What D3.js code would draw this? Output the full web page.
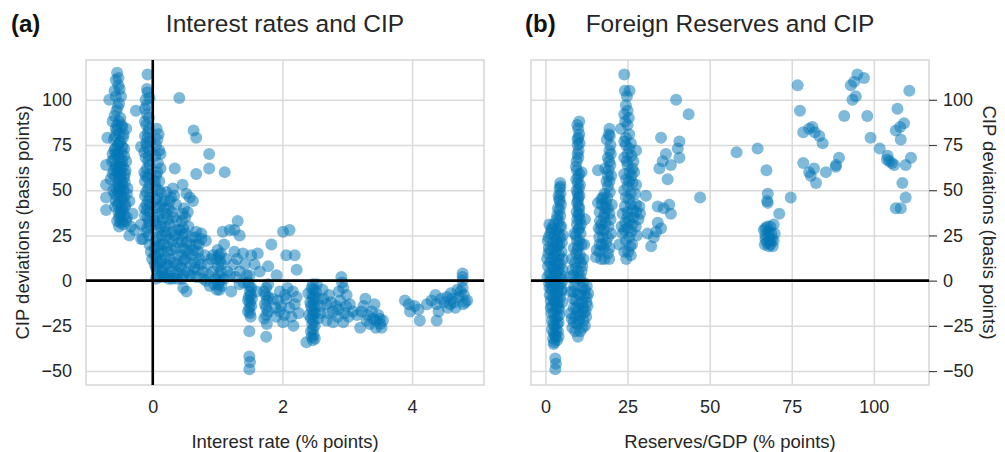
<!DOCTYPE html>
<html>
<head>
<meta charset="utf-8">
<script src="https://cdn.jsdelivr.net/npm/d3@7"></script>
<style>
  body { margin: 0; background: #fff; }
  svg { font-family: "Liberation Sans", Arial, Helvetica, sans-serif; }
  .grid line { stroke: #dadada; stroke-width: 1.5; }
  .grid .domain { display: none; }
  .tick text { fill: #262626; font-size: 18px; }
</style>
</head>
<body>
<svg id="chart" width="1005" height="452"></svg>
<script>
// panel (a): [interest rate (% points), CIP deviation (bp)]
const rateCip = [
  [-0.55,115],[-0.57,111],[-0.53,108],[-0.51,106],[-0.59,105],[-0.49,102],[-0.67,100],[-0.54,96],
  [-0.26,94],[-0.59,91],[-0.52,88],[-0.47,85],[-0.41,84],[-0.57,84],[-0.52,81],[-0.70,79],
  [-0.46,79],[-0.54,75],[-0.44,73],[-0.59,72],[-0.62,70],[-0.52,68],[-0.41,66],[-0.57,64],
  [-0.72,64],[-0.49,62],[-0.55,60],[-0.62,59],[-0.44,57],[-0.52,56],[-0.54,54],[-0.72,53],
  [-0.47,53],[-0.39,51],[-0.52,49],[-0.59,48],[-0.44,46],[-0.72,46],[-0.36,44],[-0.54,42],
  [-0.48,40],[-0.72,39],[-0.46,39],[-0.31,37],[-0.52,35],[-0.41,33],[-0.52,30],[-0.36,25],
  [-0.18,23],[-0.50,77],[-0.56,70],[-0.47,66],[-0.60,61],[-0.50,58],[-0.45,50],[-0.57,44],
  [-0.42,42],[-0.50,36],[-0.45,31],[-0.55,86],[-0.50,90],[-0.58,80],[-0.48,71],[-0.53,63],
  [-0.42,61],[-0.56,51],[-0.49,47],[-0.53,38],[-0.34,30],[-0.28,28],
  [-0.62,88],[-0.48,86],[-0.55,83],[-0.45,81],[-0.60,78],[-0.52,76],[-0.47,74],[-0.58,73],
  [-0.53,71],[-0.44,69],[-0.60,67],[-0.50,65],[-0.46,63],[-0.56,62],[-0.51,60],[-0.43,59],
  [-0.58,57],[-0.48,55],[-0.53,52],[-0.43,54],[-0.61,50],[-0.50,51],[-0.40,48],[-0.55,47],
  [-0.47,45],[-0.52,43],[-0.43,41],[-0.58,41],[-0.49,38],[-0.44,36],[-0.55,33],[-0.47,33],
  [-0.40,35],[-0.50,32],[-0.56,94],[-0.52,98],[-0.57,102],[-0.53,112],[-0.63,66],[-0.65,56],
  [-0.08,114],[-0.09,106],[-0.08,104],[-0.11,100],[-0.05,101],[-0.09,92],[-0.08,79],[-0.10,76],
  [-0.18,74],[-0.05,72],[-0.11,68],[-0.05,64],[-0.13,60],[-0.08,57],[-0.05,53],[-0.10,49],
  [-0.05,46],[-0.10,42],[-0.05,38],[-0.08,35],[-0.18,31],[-0.05,31],[-0.10,27],[-0.15,23],
  [-0.05,20],[-0.03,16],[-0.01,12],[-0.06,84],[-0.12,88],[-0.07,66],[-0.12,55],[-0.07,44],
  [-0.13,40],[-0.06,25],
  [-0.09,97],[-0.12,95],[-0.06,90],[-0.10,86],[-0.07,82],[-0.12,80],[-0.04,77],[-0.09,74],
  [-0.13,71],[-0.06,69],[-0.09,62],[-0.04,59],[-0.11,58],[-0.07,51],[-0.12,47],[-0.04,42],
  [-0.09,39],[-0.12,36],[-0.06,33],[-0.09,29],
  [0.06,84],[0.09,81],[0.05,75],[0.10,72],[0.04,69],[0.08,65],[0.12,62],[0.05,58],[0.10,55],
  [0.04,52],[0.12,49],[0.07,46],[0.14,43],[0.05,40],[0.10,37],[0.15,34],[0.05,31],[0.10,28],
  [0.14,25],[0.04,22],[0.09,19],[0.13,16],[0.06,13],[0.11,10],[0.05,7],[0.14,5],[0.08,3],
  [0.03,14],[0.03,9],
  [0.07,78],[0.12,70],[0.07,60],[0.03,55],[0.09,50],[0.04,45],[0.11,41],[0.08,35],[0.03,33],
  [0.12,30],[0.07,24],[0.12,20],[0.03,18],[0.09,15],[0.13,11],[0.07,8],[0.11,2],[0.05,1],
  [0.21,49],[0.31,51],[0.28,46],[0.36,42],[0.21,37],[0.26,31],[0.21,25],[0.31,22],[0.23,16],
  [0.21,9],[0.28,5],[0.16,7],[0.18,44],[0.24,40],[0.32,35],[0.20,30],[0.30,27],[0.17,20],
  [0.27,12],[0.35,18],[0.38,28],[0.18,2],[0.25,1],[0.34,3],
  [0.19,40],[0.26,44],[0.33,47],[0.23,34],[0.29,38],[0.37,33],[0.19,27],[0.25,23],[0.34,25],
  [0.40,21],[0.22,19],[0.29,17],[0.38,14],[0.19,13],[0.25,8],[0.32,10],[0.42,8],[0.23,3],
  [0.30,1],[0.38,1],[0.50,26],[0.52,21],[0.55,15],[0.50,12],[0.53,5],[0.60,3],[0.65,10],
  [0.70,6],[0.74,9],[0.78,1],[0.48,40],[0.50,35],[0.42,28],[0.58,20],[0.63,17],[0.66,24],
  [0.71,20],[0.86,3],[0.82,0],[0.88,-3],
  [0.46,37],[0.45,33],[0.47,29],[0.46,25],[0.44,22],[0.47,18],[0.45,14],[0.48,11],[0.44,7],
  [0.47,3],[0.45,1],[0.47,-4],[0.52,-6],
  [0.57,46],[0.62,44],[0.52,48],[0.54,38],[0.67,27],[0.75,26],[0.75,23],[0.82,22],[0.67,20],
  [0.62,14],[0.72,12],[0.64,7],[0.77,5],[0.57,3],[0.85,9],[0.90,12],[0.36,9],[0.39,4],[0.16,3],
  [0.55,30],[0.60,24],[0.52,17],[0.58,9],[0.68,2],[0.70,16],[0.80,14],
  [0.41,101],[0.63,83],[0.67,79],[0.34,62],[0.87,70],[0.87,62],[0.67,59],[1.11,60],[0.46,53],
  [1.02,14],[1.04,11],[1.01,8],[1.05,5],[1.02,3],[1.04,0],[1.01,-2],[1.03,-5],[0.93,5],
  [0.95,-2],[0.93,14],[1.00,17],
  [0.98,12],[1.06,9],[0.97,1],[1.06,-3],[0.99,-5],[1.05,15],[1.10,20],[1.13,12],[1.15,5],
  [1.10,1],[1.28,2],[1.30,12],[1.42,9],[1.45,3],[1.40,-1],
  [1.08,27],[1.19,28],[1.26,28],[1.31,33],[1.34,25],[1.26,16],[1.39,15],[1.24,9],[1.34,5],
  [1.19,3],[1.21,-6],[1.34,-2],
  [1.52,14],[1.62,15],[1.57,9],[1.65,5],[1.49,3],[1.78,8],[1.83,20],[1.91,3],[2.01,27],
  [2.11,28],[2.06,14],[2.19,14],[2.22,6],
  [1.49,-3],[1.50,-6],[1.48,-9],[1.50,-12],[1.49,-15],[1.50,-18],[1.49,-28],[1.49,-42],
  [1.50,-45],[1.49,-49],[1.60,-6],
  [1.47,-1],[1.52,-4],[1.51,-8],[1.47,-11],[1.52,-14],[1.47,-17],[1.51,-20],[1.53,-10],
  [1.75,-4],[1.74,-8],[1.76,-11],[1.75,-15],[1.75,-19],[1.76,-24],[1.75,-31],
  [1.72,-6],[1.78,-9],[1.73,-13],[1.78,-17],[1.72,-21],[1.78,-2],
  [1.96,-6],[1.93,-11],[1.96,-17],[2.01,-23],[2.06,-10],[2.11,-15],[2.19,-13],[2.16,-6],[1.85,-10],
  [1.98,-14],[2.03,-19],[1.90,-20],[2.08,-4],[2.04,-8],[1.89,-15],[2.14,-20],[2.22,-9],
  [2.25,-18],[2.17,-25],
  [2.47,-2],[2.48,-5],[2.46,-8],[2.47,-10],[2.48,-13],[2.46,-16],[2.47,-19],[2.48,-22],
  [2.46,-24],[2.47,-27],[2.48,-30],[2.47,-33],[2.37,-34],[2.52,-6],[2.50,-15],[2.43,-12],
  [2.45,-4],[2.50,-9],[2.44,-14],[2.50,-18],[2.44,-21],[2.50,-25],[2.44,-28],[2.50,-32],
  [2.45,-31],[2.55,-10],[2.55,-21],[2.41,-19],[2.58,-14],[2.53,-2],[2.40,-7],
  [2.63,-10],[2.68,-13],[2.78,-17],[2.78,-23],[2.94,-23],[2.89,-11],[2.91,2],[2.94,-4],
  [2.99,-8],[3.04,-13],[3.09,-17],[2.68,-22],[2.58,-18],[2.85,-20],[2.92,-1],
  [2.62,-5],[2.72,-8],[2.75,-12],[2.83,-14],[2.70,-18],[2.87,-16],[2.98,-14],[2.96,-18],
  [3.02,-20],[2.87,-6],
  [3.20,-26],[3.25,-14],[3.32,-19],[3.40,-21],[3.45,-22],[3.51,-24],[3.53,-26],[3.48,-19],
  [3.35,-24],[3.15,-19],[3.22,-17],[3.30,-22],[3.38,-17],[3.44,-26],[3.50,-21],[3.55,-22],
  [3.28,-10],[3.42,-13],
  [3.89,-11],[3.97,-17],[4.04,-14],[4.12,-22],[4.23,-13],[4.36,-8],[4.38,-13],[4.41,-17],
  [4.38,-22],[4.54,-9],[4.59,-13],[4.67,-15],[4.72,-9],[4.78,4],[4.78,0],[4.78,-4],[4.79,-13],
  [4.85,-11],[4.50,-12],[4.62,-10],[4.70,-5],[4.80,-8],
  [3.95,-13],[4.10,-16],[4.30,-11],[4.45,-10],[4.55,-15],[4.65,-12],[4.75,-6],[4.82,-12],
  [4.60,-7],[4.78,2]
];

// panel (b): [reserves/GDP (% points), CIP deviation (bp)]
const reserveCip = [
  [4.5,54],[4.3,51],[4.6,48],[4.2,45],[4.7,42],[4.3,39],[4.5,36],[4.1,33],[4.8,30],[1.2,31],
  [0.7,22],[3.5,28],[2.8,25],[4.5,24],[2.2,21],[3.8,19],[1.5,17],[4.9,16],[2.6,14],[3.9,12],
  [1.4,10],[4.6,9],[2.5,7],[3.6,5],[1.2,4],[4.8,3],[2.2,1],[3.4,0],[1.0,-1],[4.6,-2],[2.4,-4],
  [3.8,-6],[1.3,-8],[4.5,-9],[2.6,-11],[3.5,-13],[1.6,-15],[4.2,-16],[2.6,-18],[3.6,-20],
  [2.0,-22],[4.0,-23],[2.8,-25],[3.3,-27],[2.5,-29],[3.1,-31],[2.7,-34],[3.0,-43],[3.2,-46],
  [3.0,-49],[4.0,26],[2.0,12],[3.0,3],[1.8,-5],[3.5,-9],[5.0,21],[5.2,6],[5.1,-12],[0.8,8],
  [2.5,31],[3.4,34],[2.0,29],[3.2,22],[1.0,24],[4.2,20],[2.4,18],[3.1,16],[0.9,15],[4.2,14],
  [3.2,10],[2.0,8],[4.0,6],[0.6,2],[2.8,5],[4.3,1],[1.7,3],[3.0,-2],[2.0,-3],[4.0,-3],
  [1.2,-4],[3.2,-7],[2.2,-9],[4.8,-6],[1.6,-11],[3.0,-12],[4.0,-12],[2.0,-14],[3.2,-16],
  [1.8,-18],[4.2,-19],[3.0,-21],[2.4,-24],[3.6,-24],[2.0,-27],[3.8,-28],[2.9,-30],[2.3,-32],
  [3.5,-33],[2.5,-35],[4.0,-31],[3.8,40],[4.0,47],[4.6,52],[4.4,44],[3.6,36],[4.4,30],
  [3.5,20],[1.5,26],[5.3,25],[5.3,12],[5.3,0],[5.0,-5],[1.0,18],[1.8,28],[0.5,12],[1.5,0],
  [3.8,9],[2.7,-1],[3.9,-15],
  [10.3,88],[10.0,84],[10.3,81],[9.8,78],[9.8,75],[10.1,72],[9.8,70],[9.5,66],[9.3,63],
  [10.0,57],[9.8,54],[10.2,51],[9.8,48],[10.0,46],[9.6,43],[10.3,40],[10.3,37],[9.7,34],
  [10.8,31],[10.0,28],[9.3,25],[10.3,22],[11.0,20],[9.7,17],[10.5,14],[8.0,12],[10.8,10],
  [9.3,7],[11.0,5],[8.5,3],[10.2,1],[11.5,-1],[8.8,-3],[12.0,-5],[9.8,-7],[12.6,-9],[8.4,-10],
  [11.2,-12],[12.8,-14],[9.4,-15],[12.2,-17],[10.6,-19],[8.0,-21],[11.6,-22],[9.7,-24],
  [8.2,-26],[10.6,-28],[9.9,-31],[12.0,-25],[7.6,-18],[11.0,60],[12.0,34],
  [9.7,86],[10.0,79],[10.4,76],[10.0,68],[9.6,61],[10.3,59],[9.4,56],[10.5,53],[9.5,50],
  [10.4,47],[9.9,44],[10.1,41],[9.5,38],[10.0,36],[10.5,34],[9.6,31],[10.3,29],[10.7,26],
  [9.6,22],[10.0,19],[9.4,15],[10.2,12],[9.0,10],[11.2,8],[9.9,5],[8.2,6],[10.6,2],[9.2,0],
  [11.2,-4],[8.5,-6],[10.5,-8],[11.8,-8],[9.3,-11],[10.2,-13],[11.6,-15],[8.6,-15],[9.8,-17],
  [11.4,-18],[12.4,-20],[9.0,-20],[10.2,-22],[11.3,-26],[9.1,-28],[8.6,-23],[12.5,-12],
  [12.6,-3],[13.0,-7],[7.8,-6],[7.6,2],[11.6,12],[11.8,20],[8.6,18],[8.8,26],
  [16.0,61],[19.5,84],[19.3,81],[19.8,75],[19.5,72],[19.0,68],[19.2,61],[19.5,55],[18.0,48],
  [17.0,45],[18.5,43],[16.5,38],[19.5,37],[17.0,31],[17.5,24],[18.5,21],[16.5,16],[15.4,13],
  [18.0,12],[17.5,46],[18.2,40],[16.8,28],[19.2,30],[17.2,20],[19.5,18],[20.2,42],[17.8,35],
  [19.0,52],[19.8,64],[18.7,78],
  [19.6,80],[19.9,70],[19.0,58],[19.6,49],[18.8,46],[17.2,42],[16.0,43],[19.0,40],[18.0,37],
  [16.6,33],[18.3,32],[19.8,34],[17.8,28],[16.4,24],[19.0,24],[17.8,18],[19.0,15],[16.5,20],
  [17.0,12],[19.4,12],[20.0,26],[16.2,29],[15.6,17],[18.6,55],[18.2,62],[19.4,66],[20.0,58],
  [24.0,114],[24.2,105],[24.8,102],[25.6,105],[24.0,92],[25.0,94],[23.0,84],[24.5,79],
  [24.5,75],[25.5,73],[27.6,72],[24.0,68],[25.0,64],[26.5,62],[24.0,59],[25.5,55],[27.6,53],
  [24.0,50],[24.5,46],[26.0,42],[27.6,42],[23.5,37],[25.5,33],[24.0,28],[25.5,24],[24.0,16],
  [22.5,20],[27.6,38],[28.6,41],[26.5,31],[26.0,48],[26.8,66],[25.0,86],[23.5,26],[26.4,20],
  [25.0,38],[26.2,58],
  [24.5,97],[25.4,90],[24.3,88],[25.5,81],[24.0,77],[26.0,76],[25.0,70],[26.2,69],[24.8,66],
  [25.6,60],[27.0,60],[24.6,56],[26.5,54],[25.0,52],[27.3,48],[25.4,45],[24.2,41],[26.6,39],
  [25.0,35],[26.8,35],[24.3,32],[27.5,30],[25.0,29],[26.2,27],[24.5,22],[25.8,19],[25.2,16],
  [23.2,30],[28.3,34],[28.8,37],[27.8,25],[26.0,14],[24.6,12],
  [30.6,47],[31.1,26],[32.2,19],[33.7,27],[34.2,32],[35.2,29],[34.2,41],[35.2,79],[34.7,62],
  [35.7,66],[36.7,70],[37.2,56],[38.2,64],[37.7,42],[38.2,37],[39.8,100],[40.8,77],[40.3,73],
  [40.8,68],[43.6,92],[47.1,46],[33.0,24],[36.0,40],
  [58.2,71],[64.6,73],[67.3,61],[67.7,48],[67.7,43],[67.5,44],
  [66.5,28],[68.5,30],[69.5,31],[67.0,25],[68.0,24],[69.0,23],[67.5,21],[68.5,20],[69.5,22],
  [67.0,23],[68.0,27],[71.2,37],[74.7,46],
  [67.0,29],[68.8,26],[69.8,26],[66.8,20],[68.0,19],[69.2,19],[68.4,22],[67.6,30],
  [76.8,108],[77.5,94],[78.5,82],[80.3,84],[81.3,85],[83.4,80],[84.4,76],[78.5,65],[80.3,60],
  [81.8,62],[82.4,54],[85.4,60],[88.4,63],[89.4,68],[91.0,91],[93.0,108],[94.0,110],[95.0,114],
  [97.0,112],[93.5,100],[94.5,102],[98.0,91],[99.0,79],[101.8,73],[104.2,69],[104.7,66],
  [106.2,64],[106.7,83],[107.2,95],[108.2,78],[109.2,87],[109.7,64],[111.3,68],[110.8,105],
  [108.7,54],[109.7,46],[106.7,40],[108.2,40],[82.0,82],[80.8,58],[88.5,64],[104.0,67],
  [108.0,85],[105.5,65]
];

const cipTicks = [-50, -25, 0, 25, 50, 75, 100];
const rateTicks = [0, 2, 4];
const reserveTicks = [0, 25, 50, 75, 100];

const svg = d3.select('#chart');
const plotTop = 60, plotBottom = 385;
const pointColor = '#0175b6';

const y = d3.scaleLinear().domain([-57.7, 122]).range([plotBottom, plotTop]);

function panel(opts) {
  const x = d3.scaleLinear().domain(opts.xDomain).range([opts.left, opts.right]);
  const w = opts.right - opts.left;
  const h = plotBottom - plotTop;
  const g = svg.append('g');

  // grid + x tick labels
  g.append('g')
    .attr('class', 'grid')
    .attr('transform', `translate(0, ${plotBottom})`)
    .call(d3.axisBottom(x).tickValues(opts.xTicks).tickFormat(d3.format('d'))
      .tickSizeInner(-h).tickSizeOuter(0).tickPadding(15));

  g.append('g')
    .attr('class', 'grid')
    .attr('transform', `translate(${opts.left}, 0)`)
    .call(d3.axisLeft(y).tickValues(cipTicks).tickSizeInner(-w).tickSizeOuter(0).tickPadding(14))
    .call(s => { if (opts.rightAxis) s.selectAll('.tick text').remove(); });

  g.append('rect')
    .attr('x', opts.left).attr('y', plotTop)
    .attr('width', w).attr('height', h)
    .attr('fill', 'none').attr('stroke', '#d6d6d6').attr('stroke-width', 1.5);

  if (opts.rightAxis) {
    const ra = g.append('g')
      .attr('transform', `translate(${opts.right}, 0)`)
      .call(d3.axisRight(y).tickValues(cipTicks).tickSizeInner(8).tickSizeOuter(0).tickPadding(6));
    ra.select('.domain').remove();
    ra.selectAll('.tick line').attr('stroke', '#444').attr('stroke-width', 1.2);
  }

  g.append('g')
    .selectAll('circle')
    .data(opts.data)
    .join('circle')
    .attr('cx', d => x(d[0]))
    .attr('cy', d => y(d[1]))
    .attr('r', 6)
    .attr('fill', pointColor)
    .attr('fill-opacity', 0.5);

  // zero lines
  g.append('line')
    .attr('x1', opts.left).attr('x2', opts.right)
    .attr('y1', y(0)).attr('y2', y(0))
    .attr('stroke', '#000').attr('stroke-width', 2.6);
  if (opts.vZero) {
    g.append('line')
      .attr('x1', x(0)).attr('x2', x(0))
      .attr('y1', plotTop).attr('y2', plotBottom)
      .attr('stroke', '#000').attr('stroke-width', 2.6);
  }

  const cx = (opts.left + opts.right) / 2;
  svg.append('text')
    .attr('x', cx).attr('y', 32)
    .attr('text-anchor', 'middle')
    .attr('font-size', 24.5).attr('fill', '#262626')
    .text(opts.title);
  svg.append('text')
    .attr('x', opts.tagX).attr('y', 32)
    .attr('font-size', 24).attr('font-weight', 'bold').attr('fill', '#111')
    .text(opts.tag);
  svg.append('text')
    .attr('x', cx).attr('y', 448)
    .attr('text-anchor', 'middle')
    .attr('font-size', 18.5).attr('fill', '#262626')
    .text(opts.xLabel);
}

panel({
  data: rateCip, left: 86, right: 484, xDomain: [-1.03, 5.11], xTicks: rateTicks,
  title: 'Interest rates and CIP', tag: '(a)', tagX: 11,
  xLabel: 'Interest rate (% points)', vZero: true
});

panel({
  data: reserveCip, left: 531, right: 929, xDomain: [-4.4, 116.8], xTicks: reserveTicks,
  title: 'Foreign Reserves and CIP', tag: '(b)', tagX: 525,
  xLabel: 'Reserves/GDP (% points)', rightAxis: true
});

const cy = (plotTop + plotBottom) / 2;
svg.append('text')
  .attr('transform', `translate(29, ${cy}) rotate(-90)`)
  .attr('text-anchor', 'middle')
  .attr('font-size', 18.5).attr('fill', '#262626')
  .text('CIP deviations (basis points)');
svg.append('text')
  .attr('transform', `translate(983, ${cy}) rotate(90)`)
  .attr('text-anchor', 'middle')
  .attr('font-size', 18.5).attr('fill', '#262626')
  .text('CIP deviations (basis points)');
</script>
</body>
</html>
